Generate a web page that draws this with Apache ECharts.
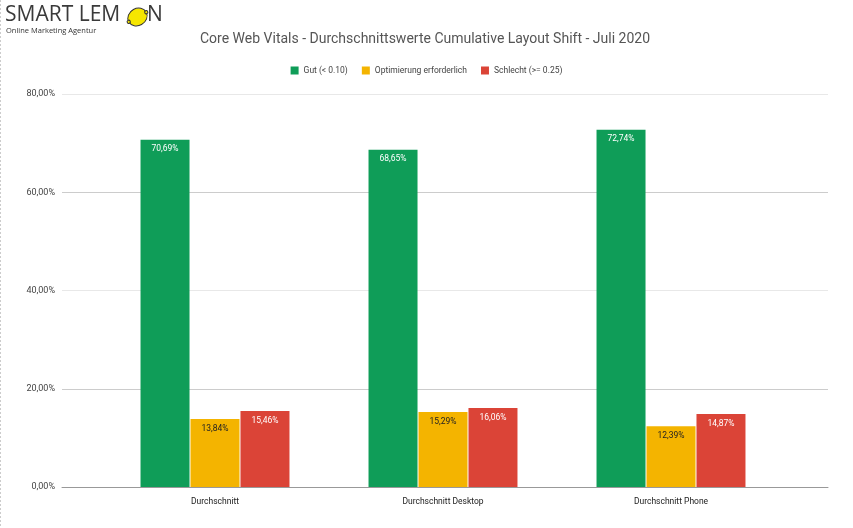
<!DOCTYPE html>
<html>
<head>
<meta charset="utf-8">
<script src="https://cdn.jsdelivr.net/npm/echarts@6/dist/echarts.min.js"></script>
<style>html,body{margin:0;padding:0;background:#fff}#c{width:853px;height:528px}</style>
</head>
<body>
<div id="c"></div>
<script>
var categories = ['Durchschnitt', 'Durchschnitt Desktop', 'Durchschnitt Phone'];
var seriesNames = ['Gut (< 0.10)', 'Optimierung erforderlich', 'Schlecht (>= 0.25)'];
var gutValues = [70.69, 68.65, 72.74];
var optimierungValues = [13.84, 15.29, 12.39];
var schlechtValues = [15.46, 16.06, 14.87];
var yTicks = [0, 20, 40, 60, 80];

var colors = ['#0f9d58', '#f4b400', '#db4437'];
var labelColors = ['#ffffff', '#222222', '#ffffff'];
var FONT = 'Roboto';
function fmt(v) { return v.toFixed(2).replace('.', ',') + '%'; }

var chart = echarts.init(document.getElementById('c'), null, {renderer: 'canvas'});
var dataSets = [gutValues, optimierungValues, schlechtValues];
var series = dataSets.map(function (d, i) {
  return {
    name: seriesNames[i], type: 'bar', xAxisIndex: 1, yAxisIndex: 1,
    data: d, barWidth: 49, barGap: '2%',
    itemStyle: {color: colors[i]},
    label: {show: true, position: 'insideTop', distance: 5, color: labelColors[i], fontSize: 8.5, fontFamily: FONT,
      formatter: function (p) { return fmt(p.value); }}
  };
});

chart.setOption({
  animation: false,
  color: colors,
  title: {
    text: 'Core Web Vitals - Durchschnittswerte Cumulative Layout Shift - Juli 2020',
    left: 420, textAlign: 'center', top: 27,
    textStyle: {fontSize: 14, fontWeight: 'normal', color: '#555', fontFamily: FONT}
  },
  legend: {
    data: seriesNames, left: 'center', top: 61, itemWidth: 8, itemHeight: 8, itemGap: 14,
    icon: 'rect',
    textStyle: {fontSize: 8.5, color: '#444', fontFamily: FONT}
  },
  grid: [
    {left: 62, right: 25, top: 94, bottom: 41},
    {left: 101, right: 68, top: 94, bottom: 41}
  ],
  xAxis: [
    {gridIndex: 0, type: 'value', min: 0, max: 1, axisLabel: {show: false}, splitLine: {show: false}, axisTick: {show: false},
      axisLine: {show: true, lineStyle: {color: '#999', width: 1}}},
    {gridIndex: 1, type: 'category', data: categories, axisLine: {show: false}, axisTick: {show: false},
      axisLabel: {margin: 10, color: '#222', fontSize: 8.5, fontFamily: FONT}}
  ],
  yAxis: [
    {gridIndex: 0, type: 'value', min: yTicks[0], max: yTicks[yTicks.length - 1], interval: 20,
      axisLine: {show: false}, axisTick: {show: false},
      axisLabel: {margin: 7, color: '#444', fontSize: 9, fontFamily: FONT, formatter: function (v) { return fmt(v); }},
      splitLine: {show: true, lineStyle: {color: ['#999', '#cccccc', '#e8e8e8', '#cccccc', '#e8e8e8']}}},
    {gridIndex: 1, type: 'value', min: yTicks[0], max: yTicks[yTicks.length - 1], interval: 20, show: false,
      splitLine: {show: false}}
  ],
  graphic: [
    {type: 'text', left: 5, top: 5, style: {text: 'SMART LEM', font: '21px "Open Sans"', fill: '#3a3a3a'}},
    {type: 'group', x: 137.5, y: 17, rotation: 0.5, children: [
      {type: 'ellipse', shape: {cx: 0, cy: 0, rx: 10, ry: 8.5}, style: {fill: '#f6e600', stroke: '#333', lineWidth: 1}},
      {type: 'circle', shape: {cx: 10, cy: 0, r: 1.6}, style: {fill: '#f6e600', stroke: '#333', lineWidth: 1}},
      {type: 'circle', shape: {cx: -10, cy: 0, r: 1.6}, style: {fill: '#f6e600', stroke: '#333', lineWidth: 1}}
    ]},
    {type: 'text', left: 147, top: 5, style: {text: 'N', font: '21px "Open Sans"', fill: '#3a3a3a'}},
    {type: 'text', left: 6, top: 27, style: {text: 'Online Marketing Agentur', font: '7.5px "Open Sans"', fill: '#333'}},
    {type: 'line', shape: {x1: 0.5, y1: 0, x2: 0.5, y2: 528}, style: {stroke: '#ccc', lineDash: [2, 2], lineWidth: 1}}
  ],
  series: series
});
</script>
</body>
</html>
